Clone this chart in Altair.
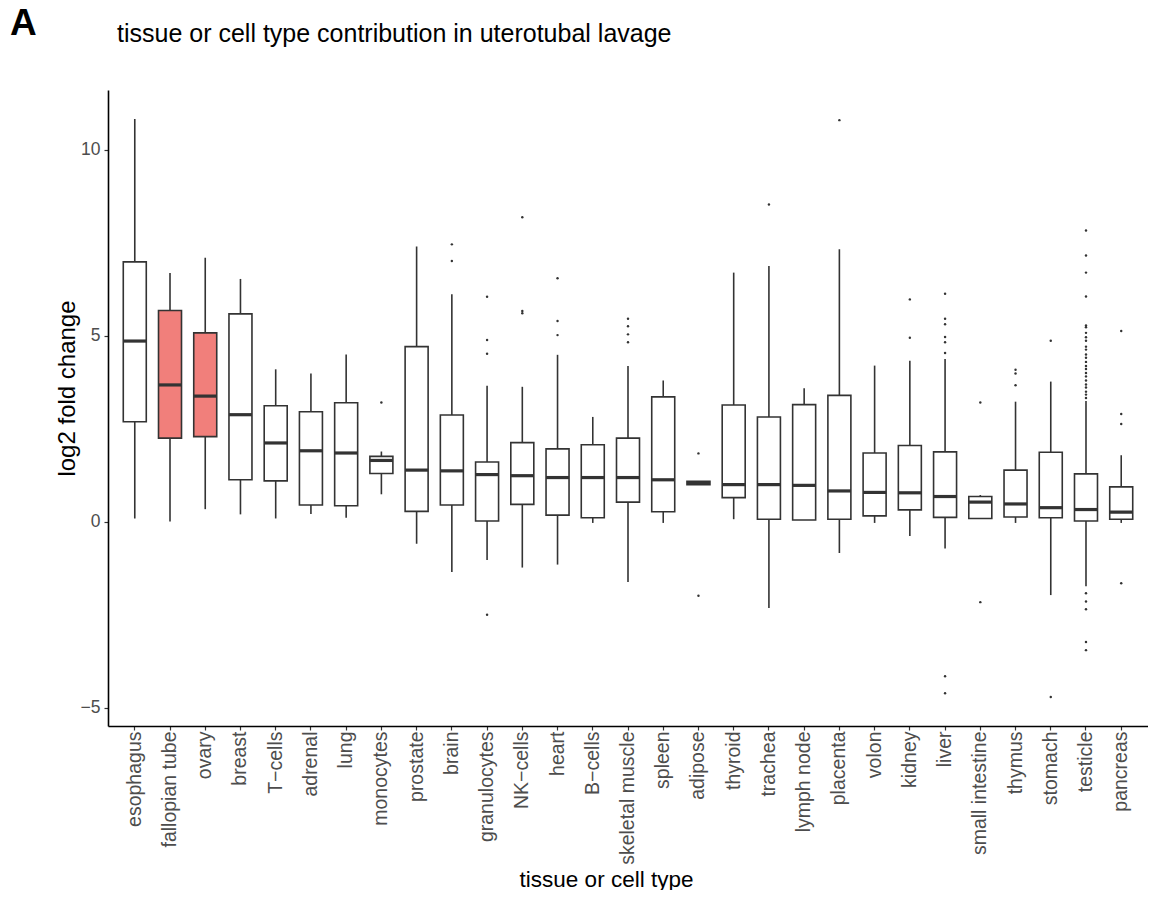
import altair as alt
import pandas as pd

tissues = ["esophagus", "fallopian tube", "ovary", "breast", "T−cells", "adrenal", "lung",
           "monocytes", "prostate", "brain", "granulocytes", "NK−cells", "heart", "B−cells",
           "skeletal muscle", "spleen", "adipose", "thyroid", "trachea", "lymph node",
           "placenta", "volon", "kidney", "liver", "small intestine", "thymus", "stomach",
           "testicle", "pancreas"]

whisker_low = [0.09, 0.01, 0.34, 0.20, 0.09, 0.21, 0.11, 0.74, -0.59, -1.35, -1.03, -1.23,
               -1.15, -0.03, -1.62, -0.03, 0.99, 0.07, -2.32, 0.05, -0.84, -0.03, -0.38,
               -0.72, 0.09, -0.03, -1.97, -1.73, -0.03]
q1 = [2.69, 2.25, 2.29, 1.13, 1.10, 0.45, 0.43, 1.30, 0.28, 0.45, 0.02, 0.47, 0.18, 0.11,
      0.53, 0.27, 1.00, 0.65, 0.07, 0.05, 0.07, 0.16, 0.32, 0.12, 0.09, 0.13, 0.11, 0.02, 0.07]
median = [4.86, 3.68, 3.38, 2.88, 2.12, 1.91, 1.85, 1.65, 1.39, 1.37, 1.27, 1.24, 1.19, 1.19,
          1.19, 1.13, 1.05, 1.00, 1.00, 0.98, 0.83, 0.79, 0.78, 0.68, 0.53, 0.48, 0.38, 0.33, 0.26]
q3 = [6.99, 5.68, 5.08, 5.59, 3.12, 2.96, 3.20, 1.76, 4.71, 2.87, 1.61, 2.13, 1.96, 2.07,
      2.25, 3.36, 1.09, 3.14, 2.82, 3.15, 3.40, 1.85, 2.05, 1.88, 0.68, 1.39, 1.87, 1.29, 0.94]
whisker_high = [10.83, 6.69, 7.10, 6.53, 4.10, 3.99, 4.50, 1.89, 7.40, 6.12, 3.66, 3.63, 4.49,
                2.82, 4.19, 3.80, 1.09, 6.70, 6.88, 3.59, 7.33, 4.20, 4.33, 4.38, 0.72, 3.23,
                3.77, 3.25, 1.79]
highlighted = ["fallopian tube", "ovary"]

outliers = {
    "monocytes": [3.21],
    "brain": [7.46, 7.01],
    "granulocytes": [6.05, 4.89, 4.52, -2.50],
    "NK−cells": [8.19, 5.67, 5.61],
    "heart": [6.55, 5.40, 5.02],
    "skeletal muscle": [5.46, 5.26, 5.04, 4.83],
    "adipose": [1.84, -1.99],
    "trachea": [8.53],
    "placenta": [10.80],
    "kidney": [5.98, 4.95],
    "liver": [6.13, 5.46, 5.31, 4.97, 4.83, 4.54, -4.15, -4.61],
    "small intestine": [3.21, -2.16],
    "thymus": [4.09, 3.99, 3.67],
    "stomach": [4.87, -4.71],
    "testicle": [7.83, 7.16, 6.70, 6.06, 5.28, 5.23, 5.08, 4.96, 4.87, 4.71, 4.63, 4.50,
                 4.41, 4.30, 4.19, 4.11, 4.00, 3.91, 3.80, 3.69, 3.61, 3.50, 3.42, 3.33,
                 -1.92, -2.14, -2.35, -3.23, -3.45],
    "pancreas": [5.13, 2.90, 2.63, -1.65],
}

box_df = pd.DataFrame({
    "tissue": tissues, "low": whisker_low, "q1": q1, "median": median,
    "q3": q3, "high": whisker_high,
    "group": ["hi" if t in highlighted else "lo" for t in tissues],
})
out_df = pd.DataFrame([(t, v) for t, vals in outliers.items() for v in vals],
                      columns=["tissue", "value"])

FONT = "Liberation Sans"
DARK = "#333333"
W, H = 1040, 636

xscale = alt.Scale(domain=tissues, paddingInner=0, paddingOuter=0.26)
yscale = alt.Scale(domain=[-5.49, 11.61], nice=False, zero=False)

xenc = alt.X("tissue:N", scale=xscale, sort=tissues,
             axis=alt.Axis(title="tissue or cell type", labelAngle=-90, labelFontSize=19.5,
                           labelColor="#4d4d4d", labelPadding=1, tickSize=4,
                           tickColor=DARK, tickWidth=1.2, domainColor="black",
                           domainWidth=1.6, titleFontSize=22.5, titleFontWeight="normal",
                           titleColor="black", titleX=498, titleY=160,
                           titleBaseline="alphabetic", titleAlign="center",
                           labelFont=FONT, titleFont=FONT))

yaxis = alt.Axis(title="log2 fold change", values=[-5, 0, 5, 10], labelFontSize=17.5,
                 labelColor="#4d4d4d", labelPadding=4, tickSize=4, tickColor=DARK,
                 tickWidth=1.2, domainColor="black", domainWidth=1.6, titleFontSize=24,
                 titleFontWeight="normal", titleColor="black", titleX=-34, titleY=298,
                 titleAngle=270, titleBaseline="alphabetic", titleAlign="center",
                 grid=False, labelFont=FONT, titleFont=FONT)

base = alt.Chart(box_df)

whiskers = base.mark_rule(color=DARK, strokeWidth=1.6).encode(
    x=xenc,
    y=alt.Y("low:Q", scale=yscale, axis=yaxis),
    y2="high:Q",
)

boxes = base.mark_bar(size=23, stroke=DARK, strokeWidth=1.6).encode(
    x=alt.X("tissue:N", scale=xscale, sort=tissues),
    y=alt.Y("q1:Q", scale=yscale),
    y2="q3:Q",
    fill=alt.Fill("group:N", scale=alt.Scale(domain=["hi", "lo"],
                                             range=["#F17F7B", "white"]), legend=None),
)

medians = base.mark_tick(size=23, thickness=3.2, color=DARK, opacity=1).encode(
    x=alt.X("tissue:N", scale=xscale, sort=tissues),
    y=alt.Y("median:Q", scale=yscale),
)

points = alt.Chart(out_df).mark_circle(size=6, color=DARK, opacity=1).encode(
    x=alt.X("tissue:N", scale=xscale, sort=tissues),
    y=alt.Y("value:Q", scale=yscale),
)

label_df = pd.DataFrame({"txt": ["A"]})
letter = alt.Chart(label_df).mark_text(
    font=FONT, fontSize=37, fontWeight="bold", align="left", baseline="alphabetic",
    color="black").encode(text="txt:N", x=alt.value(-98), y=alt.value(-55))

title_df = pd.DataFrame({"txt": ["tissue or cell type contribution in uterotubal lavage"]})
title = alt.Chart(title_df).mark_text(
    font=FONT, fontSize=25, align="left", baseline="alphabetic",
    color="black").encode(text="txt:N", x=alt.value(9), y=alt.value(-48))

chart = alt.layer(whiskers, boxes, medians, points, letter, title).properties(
    width=W, height=H,
    autosize=alt.AutoSizeParams(type="none"),
    padding={"left": 100, "top": 82, "right": 0, "bottom": 164},
).configure(font=FONT).configure_view(stroke=None, strokeWidth=0)

chart.save("out.html", embed_options={"renderer": "svg", "actions": False})
